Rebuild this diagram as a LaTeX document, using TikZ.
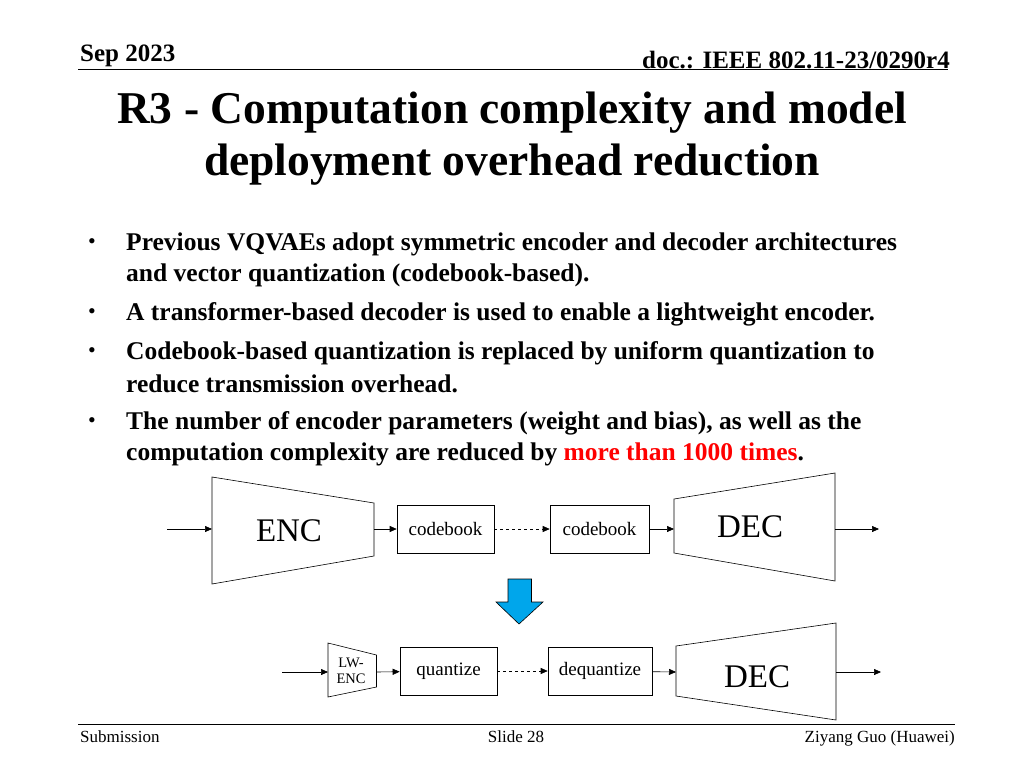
\documentclass[tikz,border=0pt]{standalone}
\usepackage{fontspec}
\setmainfont{Liberation Serif}
\usetikzlibrary{arrows.meta}
\tikzset{
  box/.style={draw, semithick, minimum height=48pt, inner sep=0pt, font=\fontsize{19}{21}\selectfont},
  flow/.style={-{Triangle[length=7pt,width=6pt]}, semithick},
  bullet/.style={anchor=west, inner sep=0pt, font=\fontsize{25.5}{27}\bfseries\selectfont}
}
\begin{document}
\begin{tikzpicture}[x=1pt,y=-1pt]
            \useasboundingbox (0,0) rectangle (1024,768);

            % Header
            \node[anchor=base west, inner sep=0pt, font=\fontsize{25}{27}\bfseries\selectfont] (date) at (80,61) {Sep 2023};
            \node[anchor=base east, inner sep=0pt, font=\fontsize{25}{27}\bfseries\selectfont] (doc) at (950,68) {doc.: IEEE 802.11-23/0290r4};
            \draw[thick] (78,69) -- (948,69);

            % Title
            \node[align=center, font=\fontsize{45.5}{52}\bfseries\selectfont] (title) at (512,139) {R3 - Computation complexity and model\\deployment overhead reduction};

            % Bullets
            \foreach \y in {244,314,353,423} \node (b\y) at (92,\y) {\fontsize{22}{24}\selectfont\textbullet};
            \node[bullet] (t1) at (126,244) {Previous VQVAEs adopt symmetric encoder and decoder architectures};
            \node[bullet] (t1b) at (126,275) {and vector quantization (codebook-based).};
            \node[bullet] (t2) at (126,314) {A transformer-based decoder is used to enable a lightweight encoder.};
            \node[bullet] (t3) at (126,353) {Codebook-based quantization is replaced by uniform quantization to};
            \node[bullet] (t3b) at (126,384) {reduce transmission overhead.};
            \node[bullet] (t4) at (126,423) {The number of encoder parameters (weight and bias), as well as the};
            \node[bullet] (t4b) at (126,454) {computation complexity are reduced by \textcolor{red}{more than 1000 times}.};

            % Upper chain
            \coordinate (in1) at (167,529);
            \draw[semithick] (212,477) -- (374,503) -- (374,556) -- (212,584) -- cycle;
            \node[font=\fontsize{33}{35}\selectfont] (enc) at (289,531) {ENC};
            \coordinate (enco) at (374,529);
            \node[box, minimum width=97pt] (cb1) at (445.5,529) {codebook};
            \node[box, minimum width=99pt] (cb2) at (599.5,529) {codebook};
            \draw[semithick] (674,499) -- (835,473) -- (835,581) -- (674,553) -- cycle;
            \node[font=\fontsize{33}{35}\selectfont] (dec1) at (750,527) {DEC};
            \coordinate (dec1i) at (674,529);
            \coordinate (dec1o) at (835,529);
            \coordinate (out1) at (879,529);
            \draw[flow] (in1) -- (212,529);
            \draw[flow] (enco) -- (cb1);
            \draw[flow, dashed] (cb1) -- (cb2);
            \draw[flow] (cb2) -- (dec1i);
            \draw[flow] (dec1o) -- (out1);

            % Blue arrow
            \draw[fill={rgb,255:red,0;green,166;blue,235}, semithick] (508,579) -- (531.5,579) -- (531.5,602) -- (543,602) -- (519,624) -- (496,602) -- (508,602) -- cycle;

            % Lower chain
            \coordinate (in2) at (282,672);
            \draw[semithick] (328,643) -- (376.5,655) -- (376.5,687) -- (328,697) -- cycle;
            \node[align=center, font=\fontsize{14.5}{15.5}\selectfont] (lwenc) at (351,671) {LW-\\ENC};
            \node[box, minimum width=97pt] (quant) at (448.5,671) {quantize};
            \node[box, minimum width=104pt] (dequant) at (600,671) {dequantize};
            \draw[semithick] (676,646) -- (836,623) -- (836,720) -- (676,696) -- cycle;
            \node[font=\fontsize{33}{35}\selectfont] (dec2) at (757,677) {DEC};
            \draw[flow] (in2) -- (328,672);
            \draw[flow] (376.5,672) -- (quant);
            \draw[flow, dashed] (quant) -- (dequant);
            \draw[flow] (dequant) -- (676,672);
            \draw[flow] (836,672) -- (881,672);

            % Footer
            \draw[thick] (78,724) -- (955,724);
            \node[anchor=base west, inner sep=0pt, font=\fontsize{17}{19}\selectfont] (sub) at (80,742) {Submission};
            \node[anchor=base, inner sep=0pt, font=\fontsize{17}{19}\selectfont] (slide) at (516,742) {Slide 28};
            \node[anchor=base east, inner sep=0pt, font=\fontsize{17}{19}\selectfont] (auth) at (955,742) {Ziyang Guo (Huawei)};
        \end{tikzpicture}
\end{document}
